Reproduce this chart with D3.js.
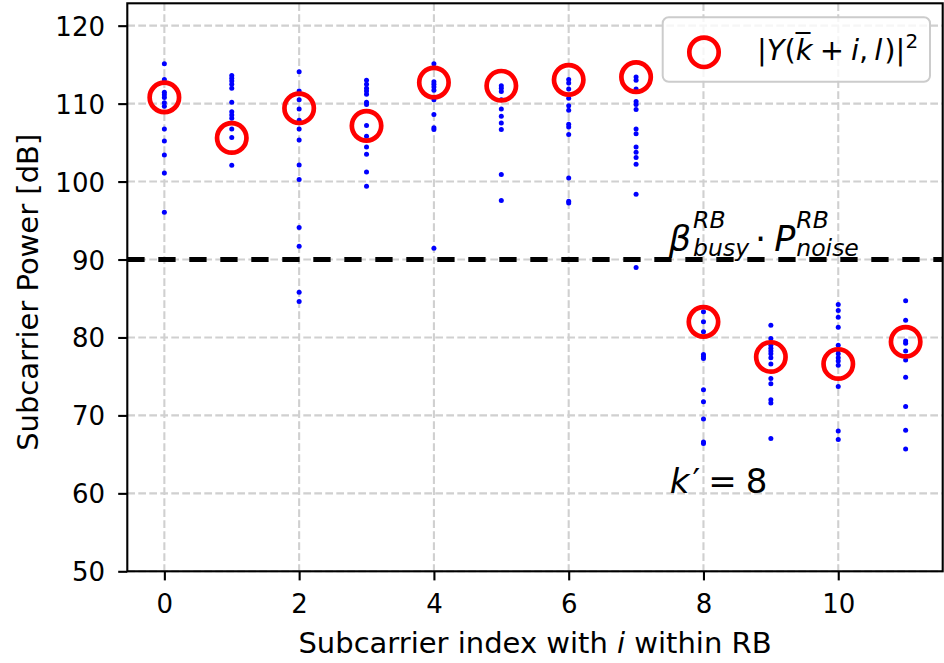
<!DOCTYPE html>
<html>
<head>
<meta charset="utf-8">
<script src="https://cdn.jsdelivr.net/npm/d3@7"></script>
<style>
  html, body { margin: 0; padding: 0; background: #fff; }
  svg { display: block; }
  text { font-family: "DejaVu Sans", sans-serif; fill: #000; }
</style>
</head>
<body>
<svg id="chart" width="944" height="663"></svg>
<script>
// ---------------- data ----------------
const subcarrierIdx = [0, 1, 2, 3, 4, 5, 6, 7, 8, 9, 10, 11];
const xTicks = [0, 2, 4, 6, 8, 10];
const yTicks = [50, 60, 70, 80, 90, 100, 110, 120];
// per-subcarrier power samples (blue dots), dB
const samples0  = [115.13, 113.08, 111.45, 111.15, 110.8, 110.1, 109.66, 106.75, 105.2, 103.4, 101.1, 96.07];
const samples1  = [113.6, 113.25, 112.9, 112.48, 111.97, 110.17, 108.97, 108.55, 108.12, 106.75, 105.64, 102.09];
const samples2  = [114.1, 111.62, 110.5, 109.3, 107.86, 106.75, 105.34, 102.14, 100.26, 94.1, 91.7, 85.8, 84.6];
const samples3  = [113.0, 112.48, 111.97, 111.62, 111.2, 110.17, 109.9, 107.2, 105.8, 104.44, 103.5, 101.24, 99.4];
const samples4  = [115.13, 112.82, 112.48, 112.14, 111.71, 110.5, 108.59, 106.92, 106.67, 91.45];
const samples5  = [112.3, 111.97, 111.54, 110.5, 109.3, 108.38, 107.52, 106.67, 100.9, 97.56];
const samples6  = [113.08, 112.65, 111.88, 110.68, 109.74, 109.15, 107.35, 107.0, 106.03, 100.47, 97.48, 97.26];
const samples7  = [113.42, 113.0, 111.88, 110.26, 109.9, 109.23, 106.75, 106.15, 104.44, 103.76, 103.08, 102.22, 98.38, 88.97];
const samples8  = [83.3, 82.0, 80.73, 77.82, 77.56, 77.3, 73.3, 71.75, 69.53, 66.6, 66.4];
const samples9  = [81.58, 79.87, 79.0, 78.6, 78.25, 77.9, 77.4, 76.6, 74.74, 74.06, 72.0, 71.6, 67.05];
const samples10 = [84.23, 83.46, 82.6, 81.32, 79.0, 78.4, 77.9, 77.4, 76.97, 76.45, 73.7, 68.0, 66.9];
const samples11 = [84.7, 82.2, 79.53, 79.27, 78.25, 77.1, 74.9, 71.15, 68.1, 65.7];
const samplesByIdx = [samples0, samples1, samples2, samples3, samples4, samples5,
                      samples6, samples7, samples8, samples9, samples10, samples11];
// |Y(k+i,l)|^2 (red circles), dB
const circlePower = [110.8, 105.6, 109.4, 107.15, 112.7, 112.3, 113.05, 113.4, 82.0, 77.5, 76.6, 79.45];
const threshold = 90;

// ---------------- layout ----------------
const svg = d3.select("#chart");
const plot = { left: 127.3, right: 942.7, top: 3.3, bottom: 571.3 };
const x = d3.scaleLinear().domain([-0.55, 11.55]).range([plot.left, plot.right]);
const y = d3.scaleLinear().domain([50, 122.87]).range([plot.bottom, plot.top]);

const TICK_FS = 26, LABEL_FS = 29;

// grid
const grid = svg.append("g").attr("class", "grid");
grid.selectAll("line.v").data(xTicks).join("line")
  .attr("x1", d => x(d)).attr("x2", d => x(d))
  .attr("y1", plot.top).attr("y2", plot.bottom)
  .attr("stroke", "#d0d0d0").attr("stroke-width", 2.1).attr("stroke-dasharray", "7.7,3.3");
grid.selectAll("line.h").data(yTicks).join("line")
  .attr("x1", plot.left).attr("x2", plot.right)
  .attr("y1", d => y(d)).attr("y2", d => y(d))
  .attr("stroke", "#d0d0d0").attr("stroke-width", 2.1).attr("stroke-dasharray", "7.7,3.3");

// dots
const dotData = [];
subcarrierIdx.forEach((k, i) => samplesByIdx[i].forEach(v => dotData.push({ k, v })));
svg.append("g").selectAll("circle").data(dotData).join("circle")
  .attr("cx", d => x(d.k)).attr("cy", d => y(d.v)).attr("r", 2.5)
  .attr("fill", "#0000ff");

// threshold line
svg.append("line")
  .attr("x1", plot.left).attr("x2", plot.right)
  .attr("y1", y(threshold)).attr("y2", y(threshold))
  .attr("stroke", "#000").attr("stroke-width", 5.2)
  .attr("stroke-dasharray", "17.3,13.7");

// red circles
svg.append("g").selectAll("circle").data(subcarrierIdx).join("circle")
  .attr("cx", d => x(d)).attr("cy", (d, i) => y(circlePower[i])).attr("r", 14.7)
  .attr("fill", "none").attr("stroke", "#ff0000").attr("stroke-width", 4.7);

// axes
const xAxis = svg.append("g").attr("transform", `translate(0,${plot.bottom})`)
  .call(d3.axisBottom(x).tickValues(xTicks).tickSize(9.1).tickPadding(14.4).tickFormat(d3.format("d")));
const yAxis = svg.append("g").attr("transform", `translate(${plot.left},0)`)
  .call(d3.axisLeft(y).tickValues(yTicks).tickSize(9.1).tickPadding(13.2).tickFormat(d3.format("d")));
[xAxis, yAxis].forEach(a => {
  a.select(".domain").remove();
  a.selectAll(".tick line").attr("stroke", "#000").attr("stroke-width", 2.1);
  a.selectAll(".tick text").attr("font-size", TICK_FS).attr("font-family", "DejaVu Sans").attr("fill", "#000");
});
yAxis.selectAll(".tick text").attr("dy", "0.365em");

// frame
svg.append("rect")
  .attr("x", plot.left).attr("y", plot.top)
  .attr("width", plot.right - plot.left).attr("height", plot.bottom - plot.top)
  .attr("fill", "none").attr("stroke", "#000").attr("stroke-width", 2.1);

// axis labels
const xl = svg.append("text")
  .attr("x", (plot.left + plot.right) / 2).attr("y", 653)
  .attr("text-anchor", "middle").attr("font-size", LABEL_FS);
xl.append("tspan").text("Subcarrier index with ");
xl.append("tspan").attr("font-style", "italic").text("i");
xl.append("tspan").text(" within RB");

svg.append("text")
  .attr("transform", `translate(38,${(plot.top + plot.bottom) / 2 + 5}) rotate(-90)`)
  .attr("text-anchor", "middle").attr("font-size", LABEL_FS)
  .text("Subcarrier Power [dB]");

// helper for simple math-like layout: sequential pieces; a "stack" is a sup/sub pair in one text element
function mathText(x0, base, pieces) {
  const g = svg.append("g");
  let cx = x0;
  pieces.forEach(p => {
    if (p.stack) {
      const t = g.append("text").attr("font-size", p.size).attr("font-style", "italic");
      let w = 0;
      p.stack.forEach(s => {
        const ts = t.append("tspan").attr("x", cx).attr("y", base + s.dy).text(s.t);
        w = Math.max(w, ts.node().getComputedTextLength());
      });
      cx += w + (p.gap || 0);
    } else {
      const t = g.append("text").attr("x", cx).attr("y", base + (p.dy || 0))
        .attr("font-size", p.size).attr("font-style", p.italic ? "italic" : "normal").text(p.t);
      cx += t.node().getComputedTextLength() + (p.gap || 0);
    }
  });
  return g;
}

// threshold label
const TF = 35, SF = 23.5;
mathText(x(7.5) - 1, y(91.1), [
  { t: "\u03B2", size: TF, italic: true, gap: 2 },
  { stack: [{ t: "RB", dy: -23 }, { t: "busy", dy: 5 }], size: SF, gap: 6 },
  { t: "\u00B7", size: TF, gap: 8 },
  { t: "P", size: TF, italic: true, gap: 1 },
  { stack: [{ t: "RB", dy: -23 }, { t: "noise", dy: 5 }], size: SF }
]);

// k' = 8 label
mathText(x(7.5), y(60.1), [
  { t: "k", size: 34, italic: true, gap: 3 },
  { t: "\u2032", size: 34, gap: 8 },
  { t: "=", size: 34, gap: 9 },
  { t: "8", size: 34 }
]);

// legend
const lg = svg.append("g");
lg.append("rect").attr("x", 662.7).attr("y", 17.3).attr("width", 267.3).attr("height", 64.4)
  .attr("rx", 6).attr("fill", "#fff").attr("fill-opacity", 0.8)
  .attr("stroke", "#cccccc").attr("stroke-width", 2);
lg.append("circle").attr("cx", 704).attr("cy", 52.3).attr("r", 14.7)
  .attr("fill", "none").attr("stroke", "#ff0000").attr("stroke-width", 4.7);
const LF = 29;
mathText(757, 59.5, [
  { t: "|", size: LF },
  { t: "Y", size: LF, italic: true },
  { t: "(", size: LF },
  { t: "k\u0305", size: LF, italic: true, gap: 7 },
  { t: "+", size: LF, gap: 7 },
  { t: "i", size: LF, italic: true },
  { t: ",", size: LF, gap: 6 },
  { t: "l", size: LF, italic: true, gap: 2 },
  { t: ")|", size: LF },
  { t: "2", size: 20, dy: -12 }
]);
</script>
</body>
</html>
